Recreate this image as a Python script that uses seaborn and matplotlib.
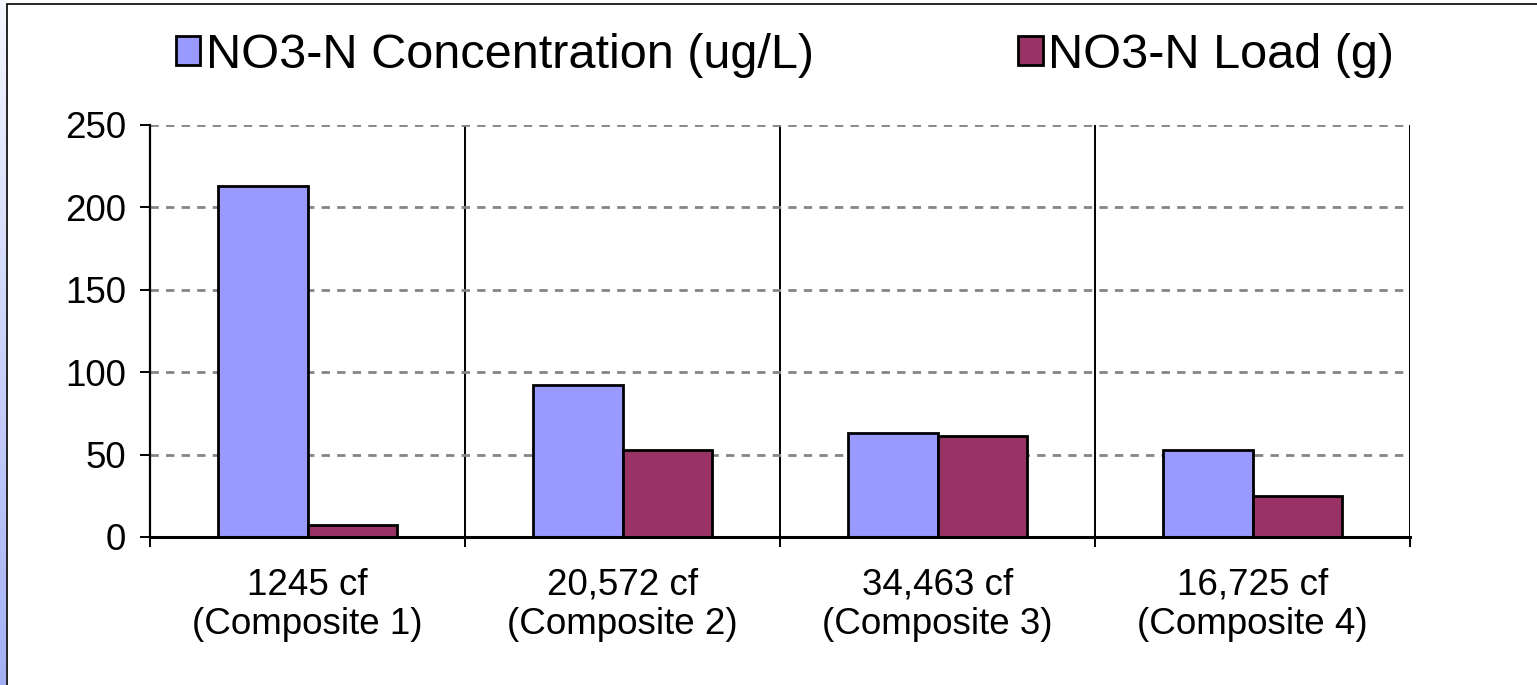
import numpy as np
import pandas as pd
import matplotlib
matplotlib.use("Agg")
import matplotlib.pyplot as plt
from matplotlib.lines import Line2D
import seaborn as sns

# Sample volumes and composite names shown on the x axis
volumes = ["1245 cf", "20,572 cf", "34,463 cf", "16,725 cf"]
composites = ["(Composite 1)", "(Composite 2)", "(Composite 3)", "(Composite 4)"]

# Series values
concentration = [213, 92, 63, 53]   # NO3-N Concentration (ug/L)
load = [7, 53, 61.5, 25]            # NO3-N Load (g)

series_names = ["NO3-N Concentration (ug/L)", "NO3-N Load (g)"]
colors = ["#9999FF", "#993366"]
y_ticks = [0, 50, 100, 150, 200, 250]

categories = [f"{v}\n{c}" for v, c in zip(volumes, composites)]
df = pd.DataFrame({
    "category": categories * 2,
    "series": [series_names[0]] * 4 + [series_names[1]] * 4,
    "value": concentration + load,
})

sns.set_theme(style="white")
plt.rcParams["font.family"] = ["Liberation Sans", "DejaVu Sans"]

W, H = 1537, 685
fig = plt.figure(figsize=(W / 100, H / 100), dpi=100)
fig.patch.set_facecolor("white")

# Slim gradient strip along the left edge
strip = fig.add_axes([0, 0, 6 / W, 1])
grad = np.linspace(0, 1, 256).reshape(-1, 1)
top_c = np.array([0.96, 0.97, 1.0])
bot_c = np.array([0.64, 0.69, 0.96])
img = top_c[None, None, :] * (1 - grad[..., None]) + bot_c[None, None, :] * grad[..., None]
strip.imshow(img, aspect="auto", extent=[0, 1, 0, 1])
strip.set_axis_off()

# Frame line around the chart area
fig.add_artist(Line2D([6.5 / W, 6.5 / W], [0, 1 - 3.5 / H], color="black", lw=1.2,
                      transform=fig.transFigure))
fig.add_artist(Line2D([6.5 / W, 1], [1 - 3.5 / H, 1 - 3.5 / H], color="black", lw=1.2,
                      transform=fig.transFigure))

ax = fig.add_axes([150 / W, 1 - 537 / H, (1410 - 150) / W, (537 - 125) / H])

sns.barplot(data=df, x="category", y="value", hue="series", palette=colors,
            width=0.571, gap=0, edgecolor="black", linewidth=2.0,
            saturation=1, ax=ax, legend=True)

ax.set_xlim(-0.5, 3.5)
ax.set_ylim(0, 250)
ax.set_yticks(y_ticks)
ax.set_xlabel("")
ax.set_ylabel("")

# Dashed horizontal gridlines
ax.yaxis.grid(True, linestyle=(0, (3, 2.6)), color="#858585", linewidth=2.0)
ax.xaxis.grid(False)
ax.set_axisbelow(True)

# Category separators
for xb in [0.5, 1.5, 2.5, 3.5]:
    ax.axvline(xb, color="black", lw=1.4, zorder=0.5)

for side in ["top", "right"]:
    ax.spines[side].set_visible(False)
for side in ["left", "bottom"]:
    ax.spines[side].set_visible(True)
    ax.spines[side].set_color("black")
ax.spines["left"].set_linewidth(1.6)
ax.spines["bottom"].set_linewidth(2.2)

ax.tick_params(axis="y", which="major", direction="out", length=7.2, width=1.4,
               color="black", labelsize=26.5, pad=10, left=True)
ax.set_xticks([-0.5, 0.5, 1.5, 2.5, 3.5], minor=True)
ax.tick_params(axis="x", which="minor", direction="out", length=7.2, width=1.4,
               color="black", bottom=True)
ax.tick_params(axis="x", which="major", length=0, labelsize=26.5, pad=22)
for lbl in ax.get_xticklabels():
    lbl.set_linespacing(1.18)
for lbl in ax.get_xticklabels() + ax.get_yticklabels():
    lbl.set_color("black")

# Legend across the top
handles, labels = ax.get_legend_handles_labels()
ax.legend_.remove()
leg = fig.legend(handles, labels, loc="center left", bbox_to_anchor=(176 / W, 1 - 55 / H),
                 ncol=2, frameon=False, fontsize=35, handlelength=0.5,
                 handleheight=0.55, handletextpad=0.12, columnspacing=4.2,
                 borderaxespad=0, borderpad=0)
for t in leg.get_texts():
    t.set_color("black")

fig.savefig("out.png", dpi=100, facecolor="white")
